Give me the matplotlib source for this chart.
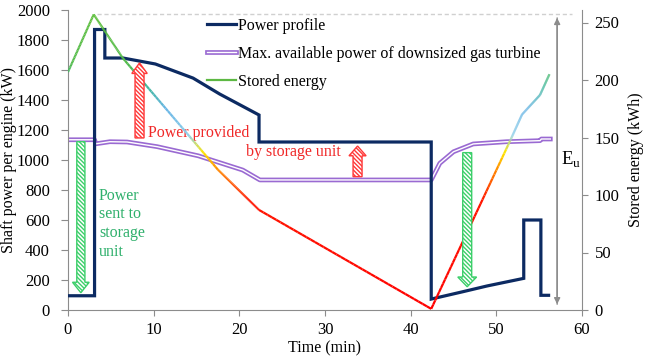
import numpy as np
import matplotlib
matplotlib.use("Agg")
import matplotlib.pyplot as plt
import matplotlib.patheffects as pe
from matplotlib.collections import LineCollection
from matplotlib.colors import LinearSegmentedColormap
from matplotlib.lines import Line2D
from matplotlib.patches import FancyArrow

plt.rcParams['font.family'] = ['Liberation Serif', 'DejaVu Serif']
plt.rcParams['mathtext.fontset'] = 'custom'
plt.rcParams['mathtext.rm'] = 'Liberation Serif'
plt.rcParams['hatch.linewidth'] = 1.0

# perfil de potencia (kW) x tempo (min)
t_power = [0, 3.1, 3.1, 4.3, 4.3, 6.4, 10.2, 14.6, 17.7, 22.3, 22.3, 42.4, 42.4,
           46.1, 48.9, 53.2, 53.2, 55.2, 55.2, 56.1]
power = [95, 95, 1870, 1870, 1680, 1680, 1640, 1546, 1440, 1300, 1120, 1120, 73,
         122, 160, 211, 600, 600, 98, 98]

# potencia maxima da turbina reduzida
t_max = [0, 3.1, 3.25, 4.9, 6.9, 10.4, 15.2, 20.4, 22.4, 42.4, 42.8, 43.4, 45.0,
         47.3, 51.2, 55.1, 55.25, 56.3]
p_max = [1135, 1135, 1108, 1122, 1120, 1089, 1028, 933, 867, 867, 911, 978, 1055,
         1107, 1122, 1129, 1140, 1140]

# energia armazenada (kWh)
t_energy = [0, 3.0, 6.4, 17.5, 22.3, 42.4, 51.6, 53.0, 55.1, 56.2]
energy = [207, 257, 219, 122, 87, 1, 147, 170, 187, 205]

e_max = 257.4
xticks = [0, 10, 20, 30, 40, 50, 60]
yticks = list(range(0, 2001, 200))
y2ticks = [0, 50, 100, 150, 200, 250]

navy = '#0c2a62'
purple = '#9a6ad2'
green = '#5db843'
red_txt = '#f02828'
green_txt = '#2fb06c'
cinza = '#8c8c8c'
fs = 11.5

fig = plt.figure(figsize=(6.48, 3.56), dpi=100)
ax = fig.add_axes([68/648, 1-310/356, 514/648, 300/356])
ax2 = ax.twinx()

ax.plot(t_power, power, color=navy, lw=2.3, solid_joinstyle='miter', zorder=3)
ax.plot(t_max, p_max, color='white', lw=1.0, zorder=2,
        path_effects=[pe.Stroke(linewidth=3.4, foreground=purple), pe.Normal()])

ax.set_xlim(0, 60)
ax.set_ylim(0, 2000)
ax.set_xticks(xticks)
ax.set_yticks(yticks)
ax2.set_ylim(0, 250*300/287.5)
ax2.set_yticks(y2ticks)

for a in (ax, ax2):
    a.tick_params(colors=cinza, labelcolor='black', labelsize=12, length=4, pad=5)
    for s in a.spines.values():
        s.set_color(cinza)
    a.spines['top'].set_visible(False)
ax.tick_params(axis='y', length=5, pad=8)
ax.spines['right'].set_visible(False)
ax2.spines['left'].set_visible(False)
ax2.spines['bottom'].set_visible(False)

ax.set_xlabel('Time (min)', fontsize=fs)
ax.set_ylabel('Shaft power per engine (kW)', fontsize=fs)
ax2.set_ylabel('Stored energy (kWh)', fontsize=fs)
ax.xaxis.set_label_coords(0.5, -0.1)
ax.yaxis.set_label_coords(-0.1, 0.5)
ax2.yaxis.set_label_coords(1.09, 0.5)

# linha de energia com gradiente de cor
cmap = LinearSegmentedColormap.from_list('energia', [
    (0.0, '#ff0000'), (95/260, '#ff1500'), (122/260, '#ff8a00'),
    (137/260, '#ffe600'), (152/260, '#8fd0ea'), (175/260, '#6ab6e6'),
    (195/260, '#3fb89a'), (215/260, '#52bb4a'), (1.0, '#5fbf3c')])
xs, ys = [], []
for i in range(len(t_energy) - 1):
    xs.extend(np.linspace(t_energy[i], t_energy[i+1], 40, endpoint=False))
    ys.extend(np.linspace(energy[i], energy[i+1], 40, endpoint=False))
xs.append(t_energy[-1])
ys.append(energy[-1])
pts = np.array([xs, ys]).T.reshape(-1, 1, 2)
segs = np.concatenate([pts[:-1], pts[1:]], axis=1)
lc = LineCollection(segs, cmap=cmap, norm=plt.Normalize(0, 260), lw=1.6, zorder=4)
lc.set_array((np.array(ys[:-1]) + np.array(ys[1:])) / 2)
ax2.add_collection(lc)

# Eu
ax2.plot([3.4, 58.8], [e_max, e_max], color='#d0d0d0', lw=1, ls=(0, (3, 2)), zorder=1)
ax2.annotate('', xy=(57.1, 5), xytext=(57.1, 254),
             arrowprops=dict(arrowstyle='-|>', color=cinza, lw=1, mutation_scale=9,
                             shrinkA=0, shrinkB=0))
ax2.annotate('', xy=(57.1, 254), xytext=(57.1, 5),
             arrowprops=dict(arrowstyle='-|>', color=cinza, lw=1, mutation_scale=9,
                             shrinkA=0, shrinkB=0))
ax.text(57.55, 967, r'E$_{\rm u}$', fontsize=13.5, va='baseline', ha='left')

# setas hachuradas
setas = [
    (8.35, 1147, 500, 1.05, 1.8, 70, '#ff3838'),
    (33.8, 889, 204, 1.05, 2.0, 65, '#ff3838'),
    (1.5, 1122, -1007, 0.95, 1.95, 70, '#3ccf6a'),
    (46.6, 1049, -894, 1.05, 2.2, 65, '#3ccf6a'),
]
for x0, y0, dy, w, hw, hl, cor in setas:
    seta = FancyArrow(x0, y0, 0, dy, width=w, head_width=hw, head_length=hl,
                      length_includes_head=True, facecolor='white', edgecolor=cor,
                      lw=1.0, hatch='\\' * 8, transform=ax.transData, zorder=6)
    ax2.add_patch(seta)

ax.text(9.34, 1155, 'Power provided', color=red_txt, fontsize=fs, va='baseline')
ax.text(20.8, 1029, 'by storage unit', color=red_txt, fontsize=fs, va='baseline')
ax.text(3.62, 815, 'Power\nsent to\nstorage\nunit', color=green_txt, fontsize=fs,
        va='top', linespacing=1.22)

handles = [
    Line2D([], [], color=navy, lw=2.3),
    Line2D([], [], color='white', lw=1.0,
           path_effects=[pe.Stroke(linewidth=3.4, foreground=purple), pe.Normal()]),
    Line2D([], [], color=green, lw=1.6),
]
labels = ['Power profile', 'Max. available power of downsized gas turbine', 'Stored energy']
ax2.legend(handles, labels, loc='upper left', bbox_to_anchor=(207/648, 1-18/356),
           bbox_transform=fig.transFigure, frameon=False, fontsize=fs,
           borderpad=0, borderaxespad=0, handlelength=1.8, handletextpad=0.15,
           labelspacing=0.75)

fig.savefig('out.png', dpi=100)
